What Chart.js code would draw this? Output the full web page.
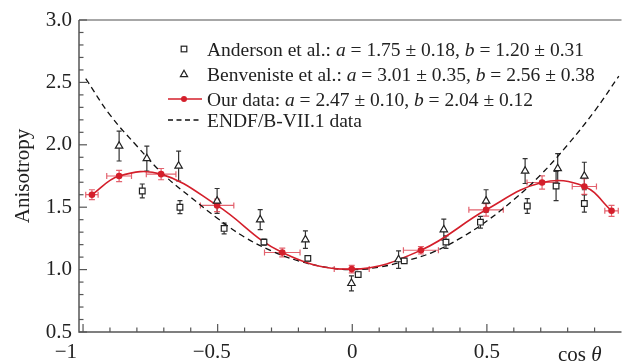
<!DOCTYPE html>
<html>
<head>
<meta charset="utf-8">
<script src="https://cdn.jsdelivr.net/npm/chart.js@4.4.1/dist/chart.umd.min.js"></script>
<style>
  html, body { margin: 0; padding: 0; background: #fff; }
</style>
</head>
<body>
<canvas id="chart" width="627" height="362"></canvas>
<script>
// Anderson et al. (open squares)
const andersonX = [-0.78, -0.64, -0.476, -0.328, -0.165, 0.022, 0.193, 0.348, 0.476, 0.65, 0.757, 0.862];
const andersonY = [1.63, 1.50, 1.33, 1.22, 1.09, 0.96, 1.07, 1.22, 1.38, 1.51, 1.67, 1.53];
const andersonErr = [0.056, 0.052, 0.043, 0.025, 0.02, 0.02, 0.02, 0.05, 0.047, 0.059, 0.117, 0.069];

// Benveniste et al. (open triangles)
const benvenisteX = [-0.866, -0.763, -0.645, -0.502, -0.342, -0.174, -0.003, 0.172, 0.34, 0.497, 0.642, 0.763, 0.862];
const benvenisteY = [1.99, 1.89, 1.83, 1.55, 1.40, 1.24, 0.89, 1.08, 1.32, 1.55, 1.79, 1.81, 1.75];
const benvenisteErr = [0.12, 0.1, 0.12, 0.1, 0.08, 0.07, 0.06, 0.07, 0.085, 0.09, 0.1, 0.12, 0.11];

// Our data (red)
const ourX = [-0.967, -0.866, -0.71, -0.502, -0.26, -0.002, 0.255, 0.497, 0.705, 0.862, 0.963];
const ourY = [1.60, 1.75, 1.765, 1.514, 1.137, 1.004, 1.155, 1.479, 1.698, 1.666, 1.471];
const ourXErr = [0.023, 0.046, 0.055, 0.062, 0.066, 0.065, 0.065, 0.064, 0.056, 0.045, 0.025];
const ourYErr = [0.04, 0.045, 0.045, 0.05, 0.035, 0.03, 0.03, 0.05, 0.053, 0.063, 0.044];

// ENDF/B-VII.1 (dashed)
const endfX = [-0.99, -0.9, -0.8, -0.7, -0.6, -0.5, -0.4, -0.3, -0.2, -0.1, 0, 0.1, 0.2, 0.3, 0.4, 0.5, 0.6, 0.7, 0.8, 0.9, 0.99];
const endfY = [2.53, 2.24, 1.99, 1.76, 1.58, 1.41, 1.26, 1.15, 1.07, 1.02, 1.00, 1.02, 1.07, 1.14, 1.25, 1.39, 1.56, 1.76, 2.00, 2.27, 2.55];

// axes
const xTickValues = [-1, -0.5, 0, 0.5];
const xTickLabels = ['\u22121', '\u22120.5', '0', '0.5'];
const yTickValues = [0.5, 1.0, 1.5, 2.0, 2.5, 3.0];
const yTickLabels = ['0.5', '1.0', '1.5', '2.0', '2.5', '3.0'];

// legend text: segments alternate normal / italic
const legendLabels = [
    ['Anderson et al.: ', 'a', ' = 1.75 \u00b1 0.18, ', 'b', ' = 1.20 \u00b1 0.31'],
    ['Benveniste et al.: ', 'a', ' = 3.01 \u00b1 0.35, ', 'b', ' = 2.56 \u00b1 0.38'],
    ['Our data: ', 'a', ' = 2.47 \u00b1 0.10, ', 'b', ' = 2.04 \u00b1 0.12'],
    ['ENDF/B-VII.1 data']
];

const SERIF = "'Liberation Serif'";
const RED = '#d41f2b';
const RED_ERR = 'rgba(222, 70, 85, 0.85)';

function pts(xs, ys) {
    return xs.map((x, i) => ({ x: x, y: ys[i] }));
}

function minorTicks(lo, hi) {
    const out = [];
    for (let v = Math.round(lo * 10); v <= Math.round(hi * 10); v++) out.push({ value: v / 10 });
    return out;
}

const frame = {
    id: 'frame',
    beforeDatasetsDraw(chart) {
        const { ctx, chartArea: a, scales: { x, y } } = chart;
        ctx.save();
        ctx.lineWidth = 1.5;
        ctx.strokeStyle = '#8a8a8a';
        ctx.beginPath(); ctx.moveTo(a.left, a.top); ctx.lineTo(a.right, a.top); ctx.stroke();
        ctx.strokeStyle = '#555';
        ctx.beginPath(); ctx.moveTo(a.left, a.top); ctx.lineTo(a.left, a.bottom); ctx.lineTo(a.right, a.bottom); ctx.stroke();

        ctx.lineWidth = 1.2;
        ctx.strokeStyle = '#555';
        x.ticks.forEach(t => {
            const px = x.getPixelForValue(t.value);
            if (px > a.right - 1) return;
            const major = Math.abs(t.value * 2 - Math.round(t.value * 2)) < 1e-6;
            ctx.beginPath(); ctx.moveTo(px, a.bottom); ctx.lineTo(px, a.bottom - (major ? 8 : 4.5)); ctx.stroke();
        });
        y.ticks.forEach(t => {
            const py = y.getPixelForValue(t.value);
            const major = Math.abs(t.value * 2 - Math.round(t.value * 2)) < 1e-6;
            ctx.beginPath(); ctx.moveTo(a.left, py); ctx.lineTo(a.left + (major ? 8 : 4.5), py); ctx.stroke();
        });

        // error bars
        const vbar = (px, y0, y1, cap) => {
            ctx.beginPath();
            ctx.moveTo(px, y0); ctx.lineTo(px, y1);
            ctx.moveTo(px - cap, y0); ctx.lineTo(px + cap, y0);
            ctx.moveTo(px - cap, y1); ctx.lineTo(px + cap, y1);
            ctx.stroke();
        };
        ctx.strokeStyle = '#333';
        ctx.lineWidth = 1.2;
        andersonX.forEach((v, i) => {
            vbar(x.getPixelForValue(v), y.getPixelForValue(andersonY[i] - andersonErr[i]), y.getPixelForValue(andersonY[i] + andersonErr[i]), 2.5);
        });
        benvenisteX.forEach((v, i) => {
            vbar(x.getPixelForValue(v), y.getPixelForValue(benvenisteY[i] - benvenisteErr[i]), y.getPixelForValue(benvenisteY[i] + benvenisteErr[i]), 2.5);
        });
        ctx.strokeStyle = RED_ERR;
        ourX.forEach((v, i) => {
            const px = x.getPixelForValue(v), py = y.getPixelForValue(ourY[i]);
            vbar(px, y.getPixelForValue(ourY[i] - ourYErr[i]), y.getPixelForValue(ourY[i] + ourYErr[i]), 3);
            const x0 = x.getPixelForValue(v - ourXErr[i]), x1 = x.getPixelForValue(v + ourXErr[i]);
            ctx.beginPath();
            ctx.moveTo(x0, py); ctx.lineTo(x1, py);
            ctx.moveTo(x0, py - 3); ctx.lineTo(x0, py + 3);
            ctx.moveTo(x1, py - 3); ctx.lineTo(x1, py + 3);
            ctx.stroke();
        });
        ctx.restore();
    },
    afterDraw(chart) {
        const { ctx, chartArea: a, scales: { x } } = chart;
        ctx.save();
        ctx.fillStyle = '#222';
        ctx.textBaseline = 'alphabetic';
        ctx.textAlign = 'left';
        ctx.font = '21px ' + SERIF;

        // x tick labels, numeric part centred on the tick
        xTickValues.forEach((v, i) => {
            const txt = xTickLabels[i];
            const num = txt.replace('\u2212', '');
            const total = ctx.measureText(txt).width;
            const numW = ctx.measureText(num).width;
            let start = x.getPixelForValue(v) - numW / 2 - (total - numW);
            if (start < a.left && start + total > a.left - 1) start = a.left - 2 - total;
            ctx.fillText(txt, start, 358);
        });

        // x title: cos θ
        ctx.font = '21px ' + SERIF;
        ctx.fillText('cos ', 558, 361);
        const cw = ctx.measureText('cos ').width;
        ctx.font = 'italic 21px ' + SERIF;
        ctx.fillText('\u03b8', 558 + cw, 361);

        // legend
        const mx = 184, tx = 207;
        const rows = [49, 74, 99, 120];
        ctx.lineWidth = 1.2;
        // square
        ctx.strokeStyle = '#222';
        ctx.strokeRect(mx - 2.8, rows[0] - 2.8, 5.6, 5.6);
        // triangle
        ctx.beginPath();
        ctx.moveTo(mx, rows[1] - 3.8); ctx.lineTo(mx + 3.6, rows[1] + 2.6); ctx.lineTo(mx - 3.6, rows[1] + 2.6); ctx.closePath();
        ctx.stroke();
        // red line + dot
        ctx.strokeStyle = RED; ctx.lineWidth = 1.5;
        ctx.beginPath(); ctx.moveTo(168, rows[2]); ctx.lineTo(202, rows[2]); ctx.stroke();
        ctx.fillStyle = RED;
        ctx.beginPath(); ctx.arc(mx, rows[2], 3, 0, Math.PI * 2); ctx.fill();
        // dashed
        ctx.strokeStyle = '#111'; ctx.lineWidth = 1.3; ctx.setLineDash([5, 3.5]);
        ctx.beginPath(); ctx.moveTo(168, rows[3]); ctx.lineTo(202, rows[3]); ctx.stroke();
        ctx.setLineDash([]);

        ctx.fillStyle = '#222';
        legendLabels.forEach((segs, r) => {
            let cx = tx;
            segs.forEach((s, k) => {
                ctx.font = (k % 2 ? 'italic ' : '') + '19.5px ' + SERIF;
                ctx.fillText(s, cx, rows[r] + 6.5);
                cx += ctx.measureText(s).width;
            });
        });
        ctx.restore();
    }
};

new Chart(document.getElementById('chart'), {
    type: 'scatter',
    data: {
        datasets: [
            {
                label: 'Anderson et al.',
                data: pts(andersonX, andersonY),
                pointStyle: 'rect',
                pointRadius: 4,
                borderColor: '#222',
                backgroundColor: '#fff',
                borderWidth: 1.2,
                showLine: false
            },
            {
                label: 'Benveniste et al.',
                data: pts(benvenisteX, benvenisteY),
                pointStyle: 'triangle',
                pointRadius: 4.3,
                borderColor: '#222',
                backgroundColor: '#fff',
                borderWidth: 1.2,
                showLine: false
            },
            {
                label: 'Our data',
                data: pts(ourX, ourY),
                showLine: true,
                tension: 0.4,
                borderColor: RED,
                borderWidth: 1.6,
                pointRadius: 3.3,
                pointBackgroundColor: RED,
                pointBorderColor: RED,
                pointBorderWidth: 0
            },
            {
                label: 'ENDF/B-VII.1 data',
                data: pts(endfX, endfY),
                showLine: true,
                tension: 0.4,
                borderColor: '#111',
                borderWidth: 1.3,
                borderDash: [6, 4],
                pointRadius: 0
            }
        ]
    },
    options: {
        responsive: false,
        animation: false,
        layout: { padding: { top: 20, right: 0, left: 0, bottom: 0 } },
        plugins: {
            legend: { display: false },
            tooltip: { enabled: false }
        },
        scales: {
            x: {
                type: 'linear',
                min: -1.015,
                max: 1.0,
                grid: { display: false, drawTicks: false },
                border: { display: false },
                ticks: { display: false },
                afterBuildTicks: s => { s.ticks = minorTicks(-1, 1); },
                afterFit: s => { s.height = 30; }
            },
            y: {
                type: 'linear',
                min: 0.5,
                max: 3.0,
                grid: { display: false, drawTicks: false },
                border: { display: false },
                afterBuildTicks: s => { s.ticks = minorTicks(0.5, 3.0); },
                afterFit: s => { s.width = 79; },
                ticks: {
                    autoSkip: false,
                    padding: 7,
                    color: '#222',
                    font: { family: SERIF, size: 21 },
                    callback: v => {
                        const i = yTickValues.findIndex(t => Math.abs(t - v) < 1e-6);
                        return i >= 0 ? yTickLabels[i] : '';
                    }
                },
                title: {
                    display: true,
                    text: 'Anisotropy',
                    color: '#222',
                    font: { family: SERIF, size: 21 },
                    padding: { top: 11, bottom: 0 }
                }
            }
        }
    },
    plugins: [frame]
});
</script>
</body>
</html>
